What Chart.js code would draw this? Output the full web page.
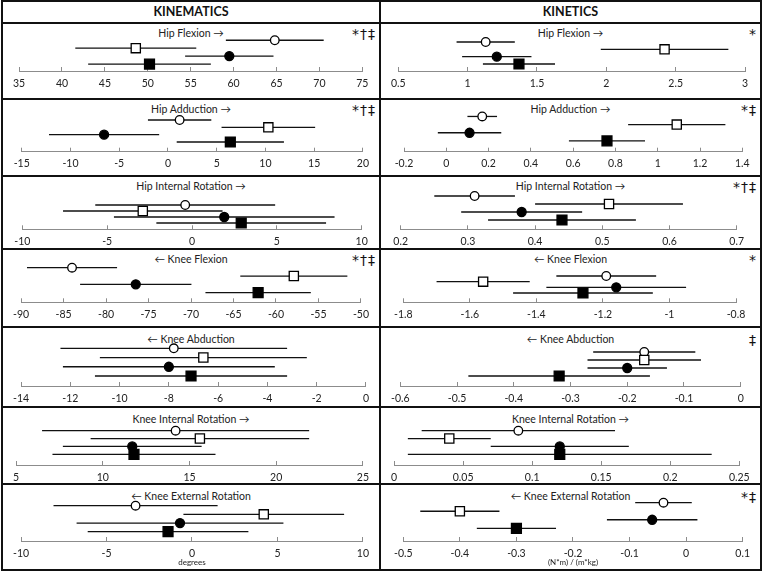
<!DOCTYPE html>
<html>
<head>
<meta charset="utf-8">
<script src="https://cdn.jsdelivr.net/npm/chart.js@4.4.0/dist/chart.umd.min.js"></script>
<style>
  body { margin: 0; background: #fff; font-family: Lato, "DejaVu Sans", sans-serif; }
  #page { position: relative; width: 763px; height: 573px; overflow: hidden; }
  .line { position: absolute; background: #111; }
  .head { position: absolute; top: 2px; height: 20px; line-height: 20px; text-align: center;
          font-weight: bold; font-size: 12.5px; color: #111; }
  .ttl { position: absolute; height: 14px; line-height: 14px; text-align: center; font-size: 10.5px; color: #222; }
  .sig { position: absolute; height: 16px; line-height: 16px; text-align: right; font-size: 14px; color: #111;
         font-family: "DejaVu Sans", sans-serif; letter-spacing: 1px; }
  canvas { position: absolute; }
</style>
</head>
<body>
<div id="page"></div>
<script>
// groups: open circle, open square, filled circle, filled square
const groupStyle = ['circle', 'rect', 'circle', 'rect'];
const groupFill = ['#ffffff', '#ffffff', '#000000', '#000000'];
const groupRadius = [4.3, 6.5, 4.5, 7];

// kinematics (degrees): means, SDs, axis [min, max, step]
const kinHipFlexMean = [64.8, 48.6, 59.5, 50.2];
const kinHipFlexSD = [5.7, 7.05, 5.15, 7.15];
const kinHipFlexAxis = [35, 75, 5];

const kinHipAddMean = [1.2, 10.3, -6.55, 6.4];
const kinHipAddSD = [3.25, 4.8, 5.65, 5.5];
const kinHipAddAxis = [-15, 20, 5];

const kinHipIRMean = [-0.4, -2.9, 1.9, 2.9];
const kinHipIRSD = [5.3, 4.7, 6.5, 5.0];
const kinHipIRAxis = [-10, 10, 5];

const kinKneeFlexMean = [-84.0, -57.9, -76.5, -62.1];
const kinKneeFlexSD = [5.3, 6.3, 6.55, 6.2];
const kinKneeFlexAxis = [-90, -50, 5];

const kinKneeAbdMean = [-7.8, -6.6, -8.0, -7.1];
const kinKneeAbdSD = [4.6, 4.2, 4.3, 3.9];
const kinKneeAbdAxis = [-14, 0, 2];

const kinKneeIRMean = [14.2, 15.6, 11.7, 11.8];
const kinKneeIRSD = [7.7, 6.3, 4.0, 4.7];
const kinKneeIRAxis = [5, 25, 5];

const kinKneeERMean = [-3.3, 4.2, -0.7, -1.4];
const kinKneeERSD = [4.8, 4.7, 6.05, 4.7];
const kinKneeERAxis = [-10, 10, 5];

// kinetics ((N*m)/(m*kg))
const ktHipFlexMean = [1.13, 2.42, 1.21, 1.37];
const ktHipFlexSD = [0.21, 0.46, 0.25, 0.26];
const ktHipFlexAxis = [0.5, 3, 0.5];

const ktHipAddMean = [0.17, 1.09, 0.11, 0.76];
const ktHipAddSD = [0.07, 0.23, 0.15, 0.18];
const ktHipAddAxis = [-0.2, 1.4, 0.2];

const ktHipIRMean = [0.31, 0.51, 0.38, 0.44];
const ktHipIRSD = [0.06, 0.11, 0.09, 0.11];
const ktHipIRAxis = [0.2, 0.7, 0.1];

const ktKneeFlexMean = [-1.19, -1.56, -1.16, -1.26];
const ktKneeFlexSD = [0.15, 0.14, 0.21, 0.21];
const ktKneeFlexAxis = [-1.8, -0.8, 0.2];

const ktKneeAbdMean = [-0.17, -0.17, -0.20, -0.32];
const ktKneeAbdSD = [0.09, 0.10, 0.07, 0.16];
const ktKneeAbdAxis = [-0.6, 0, 0.1];

const ktKneeIRMean = [0.09, 0.04, 0.12, 0.12];
const ktKneeIRSD = [0.07, 0.03, 0.05, 0.11];
const ktKneeIRAxis = [0, 0.25, 0.05];

const ktKneeERMean = [-0.04, -0.40, -0.06, -0.30];
const ktKneeERSD = [0.05, 0.07, 0.08, 0.07];
const ktKneeERAxis = [-0.5, 0.1, 0.1];

const panels = [
  ['Hip Flexion \u2192', '*\u2020\u2021', kinHipFlexMean, kinHipFlexSD, kinHipFlexAxis],
  ['Hip Adduction \u2192', '*\u2020\u2021', kinHipAddMean, kinHipAddSD, kinHipAddAxis],
  ['Hip Internal Rotation \u2192', '', kinHipIRMean, kinHipIRSD, kinHipIRAxis],
  ['\u2190 Knee Flexion', '*\u2020\u2021', kinKneeFlexMean, kinKneeFlexSD, kinKneeFlexAxis],
  ['\u2190 Knee Abduction', '', kinKneeAbdMean, kinKneeAbdSD, kinKneeAbdAxis],
  ['Knee Internal Rotation \u2192', '', kinKneeIRMean, kinKneeIRSD, kinKneeIRAxis],
  ['\u2190 Knee External Rotation', '', kinKneeERMean, kinKneeERSD, kinKneeERAxis],
  ['Hip Flexion \u2192', '*', ktHipFlexMean, ktHipFlexSD, ktHipFlexAxis],
  ['Hip Adduction \u2192', '*\u2021', ktHipAddMean, ktHipAddSD, ktHipAddAxis],
  ['Hip Internal Rotation \u2192', '*\u2020\u2021', ktHipIRMean, ktHipIRSD, ktHipIRAxis],
  ['\u2190 Knee Flexion', '*', ktKneeFlexMean, ktKneeFlexSD, ktKneeFlexAxis],
  ['\u2190 Knee Abduction', '\u2021', ktKneeAbdMean, ktKneeAbdSD, ktKneeAbdAxis],
  ['Knee Internal Rotation \u2192', '', ktKneeIRMean, ktKneeIRSD, ktKneeIRAxis],
  ['\u2190 Knee External Rotation', '*\u2021', ktKneeERMean, ktKneeERSD, ktKneeERAxis]
];
const headers = ['KINEMATICS', 'KINETICS'];
const units = ['degrees', '(N*m) / (m*kg)'];

// page layout (pixels)
const hLines = [0, 22, 98, 175, 248, 326, 406, 483, 569];
const vLines = [1, 379, 760];
const colX = [[3, 379], [381, 760]];
const axisX = [
  [[16.7, 362.3], [21.7, 366.7], [22.3, 361.7], [18.3, 361], [20, 366.7], [15.7, 365], [20, 365]],
  [[392.7, 745], [404, 742.3], [400.7, 736.7], [403.3, 736], [393.3, 740.7], [393.3, 739.3], [403.3, 743.3]]
];
// first row, last row, axis line
const rowY = [
  [[40, 64, 71], [120, 142, 151.7], [205, 223, 229.3], [267.7, 292.7, 302.3], [348.3, 376, 386], [430.7, 454.3, 465], [505.7, 531.7, 541]],
  [[42, 64, 71], [115.7, 140.7, 151.7], [196, 220, 229.3], [276, 293, 302.3], [352, 376, 386], [430.7, 454.3, 465], [502.7, 528.3, 541]]
];
const titleY = [33, 109, 186, 259, 338.5, 418.5, 495.7];

Chart.defaults.font.family = 'Lato, "DejaVu Sans", sans-serif';
const page = document.getElementById('page');

const addDiv = (cls, css, text) => {
  const d = document.createElement('div');
  d.className = cls;
  Object.assign(d.style, css);
  if (text) d.textContent = text;
  page.appendChild(d);
  return d;
};

// excel style labels: 1 not 1.0, 0 not -0.0
const tickText = v => {
  const n = Number(v.toFixed(6));
  return String(n === 0 ? 0 : n);
};

hLines.forEach(y => addDiv('line', { left: '1px', top: y + 'px', width: '761px', height: '2px' }));
vLines.forEach(x => addDiv('line', { left: x + 'px', top: '0px', width: '2px', height: '571px' }));
headers.forEach((t, c) => addDiv('head', { left: colX[c][0] + 'px', width: (colX[c][1] - colX[c][0]) + 'px' }, t));

panels.forEach((p, i) => {
  const [title, sig, mean, sd, axis] = p;
  const col = i < 7 ? 0 : 1;
  const row = i % 7;
  const [x0, x1] = colX[col];
  const top = hLines[row + 1] + 2;
  const bottom = hLines[row + 2];
  const w = x1 - x0, h = bottom - top;
  const ax = axisX[col][row];
  const ry = rowY[col][row];
  const gap = (ry[1] - ry[0]) / 3;
  const yMax = 4 + (ry[2] - ry[1]) / gap;

  addDiv('ttl', { left: x0 + 'px', width: w + 'px', top: (titleY[row] - 7) + 'px' }, title);
  if (sig) addDiv('sig', { left: x0 + 'px', width: (w - 3) + 'px', top: (titleY[row] - 7) + 'px' }, sig);

  const canvas = document.createElement('canvas');
  canvas.width = w;
  canvas.height = h;
  canvas.style.left = x0 + 'px';
  canvas.style.top = top + 'px';
  page.appendChild(canvas);

  const bars = mean.map((m, g) => ({
    type: 'scatter',
    data: [{ x: m - sd[g], y: g + 1 }, { x: m + sd[g], y: g + 1 }],
    showLine: true,
    borderColor: '#111',
    borderWidth: 1.3,
    pointRadius: 0,
    order: 1,
    clip: false
  }));
  const marks = {
    type: 'scatter',
    data: mean.map((m, g) => ({ x: m, y: g + 1 })),
    pointStyle: groupStyle,
    backgroundColor: groupFill,
    borderColor: '#000',
    borderWidth: 1.3,
    pointRadius: groupRadius,
    order: 0,
    clip: false
  };

  const scaleH = bottom - ry[2];
  new Chart(canvas, {
    type: 'scatter',
    data: { datasets: [marks, ...bars] },
    options: {
      responsive: false,
      animation: false,
      events: [],
      layout: { padding: { left: ax[0] - x0, right: x1 - ax[1], top: ry[0] - gap - top, bottom: 0 } },
      plugins: { legend: { display: false }, tooltip: { enabled: false } },
      scales: {
        x: {
          type: 'linear',
          min: axis[0],
          max: axis[1],
          ticks: {
            stepSize: axis[2], autoSkip: false, maxRotation: 0, padding: 10,
            color: '#222', font: { size: 10.5 }, callback: tickText
          },
          grid: { drawOnChartArea: false, tickLength: -4, color: '#8c8c8c' },
          border: { color: '#8c8c8c', width: 1 },
          title: row === 6
            ? { display: true, text: units[col], color: '#222', font: { size: 8 }, padding: { top: 0, bottom: 1.5 } }
            : { display: false },
          afterFit: s => { s.height = scaleH; }
        },
        y: { display: false, reverse: true, min: 0, max: yMax }
      }
    }
  });
});
</script>
</body>
</html>
